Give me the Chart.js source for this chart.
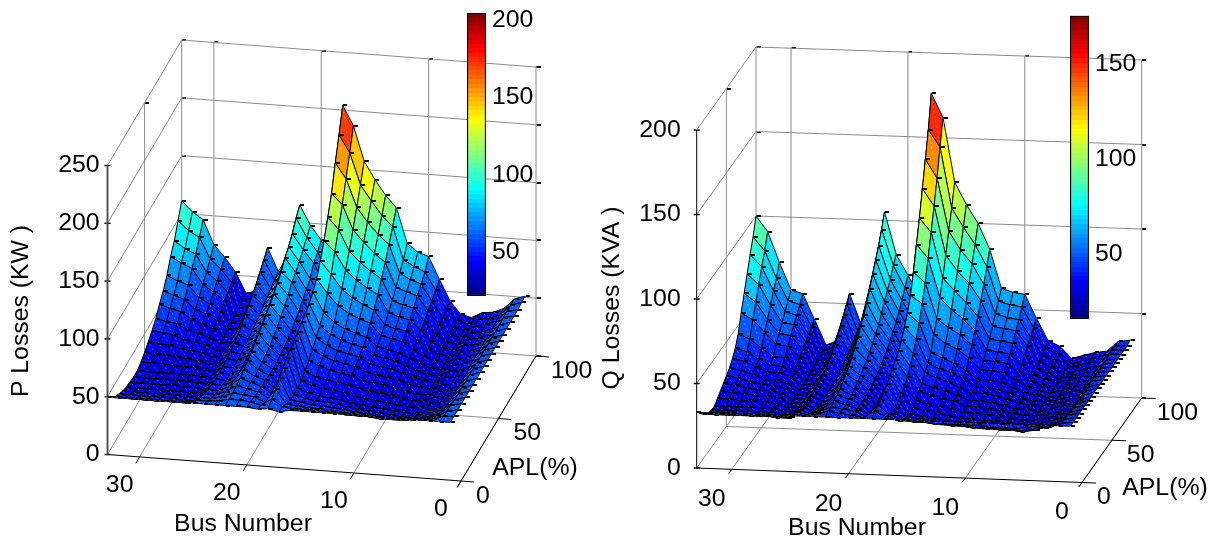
<!DOCTYPE html>
<html>
<head>
<meta charset="utf-8">
<title>P and Q losses</title>
<script src="https://cdn.jsdelivr.net/npm/chart.js@4"></script>
<style>
  body { margin: 0; background: #fff; }
  canvas { position: absolute; }
</style>
</head>
<body>
<canvas id="pSurface" width="596" height="542" style="left:0;top:0"></canvas>
<canvas id="qSurface" width="621" height="542" style="left:596px;top:0"></canvas>
<canvas id="pBar" width="90" height="300" style="left:460px;top:5px"></canvas>
<canvas id="qBar" width="90" height="340" style="left:1063px;top:5px"></canvas>
<script>
const busNumbers = [1, 2, 3, 4, 5, 6, 7, 8, 9, 10, 11, 12, 13, 14, 15, 16, 17, 18, 19, 20, 21, 22, 23, 24, 25, 26, 27, 28, 29, 30, 31, 32, 33];
const aplLevels = [0, 5, 10, 15, 20, 25, 30, 35, 40, 45, 50, 55, 60, 65, 70, 75, 80, 85, 90, 95, 100];

const busTicks = [0, 10, 20, 30];
const aplTicks = [0, 50, 100];
const pZTicks = [0, 50, 100, 150, 200, 250];
const qZTicks = [0, 50, 100, 150, 200];
const pBarTicks = [50, 100, 150, 200];
const qBarTicks = [50, 100, 150];
const pColorRange = [21.6, 204.5];
const qColorRange = [16, 175.3];
// the facets read a bit brighter than the bar at the low end
const pFacetRange = [10, 204.5];
const qFacetRange = [5, 175.3];

// one line per bus, one value per APL level
const pLosses = [
  [50, 50, 50, 50, 50, 50, 50, 50, 50, 50, 50, 50, 50, 50, 50, 50, 50, 50, 50, 51, 51],
  [50, 49, 48, 48, 47, 47, 47, 47, 47, 47, 47, 47, 47, 47, 47, 47, 47, 48, 48, 48, 48],
  [50, 46, 43, 40, 38, 37, 37, 37, 37, 37, 37, 38, 38, 38, 38, 38, 38, 38, 39, 39, 39],
  [50, 45, 41, 37, 35, 33, 33, 33, 33, 33, 33, 33, 34, 34, 34, 34, 34, 34, 35, 35, 35],
  [50, 44, 39, 35, 33, 31, 31, 31, 31, 31, 32, 32, 32, 32, 32, 33, 33, 33, 33, 34, 34],
  [50, 43, 38, 33, 29, 27, 27, 27, 27, 27, 27, 27, 27, 28, 28, 28, 28, 28, 29, 29, 29],
  [50, 43, 38, 33, 29, 27, 27, 27, 27, 28, 28, 28, 28, 29, 29, 29, 29, 30, 30, 31, 31],
  [50, 43, 38, 33, 30, 28, 28, 28, 29, 29, 30, 30, 31, 32, 33, 34, 35, 37, 38, 40, 42],
  [50, 44, 38, 34, 31, 29, 29, 30, 31, 32, 33, 34, 35, 37, 40, 43, 45, 49, 52, 56, 60],
  [50, 44, 39, 35, 32, 30, 30, 31, 33, 34, 36, 37, 39, 43, 47, 51, 56, 61, 66, 71, 79],
  [50, 44, 40, 36, 33, 31, 31, 32, 34, 35, 37, 39, 41, 45, 48, 53, 58, 64, 69, 75, 82],
  [50, 45, 40, 37, 34, 32, 32, 34, 35, 37, 39, 41, 43, 47, 51, 56, 61, 67, 74, 80, 89],
  [50, 45, 41, 38, 36, 34, 35, 36, 39, 41, 44, 47, 50, 57, 63, 71, 79, 88, 98, 108, 119],
  [50, 46, 42, 39, 37, 35, 36, 38, 40, 43, 46, 49, 53, 60, 67, 76, 85, 95, 106, 117, 129],
  [50, 46, 42, 39, 37, 36, 37, 39, 42, 45, 48, 52, 56, 64, 72, 82, 92, 104, 116, 129, 142],
  [50, 46, 43, 41, 39, 38, 39, 41, 45, 48, 52, 56, 61, 70, 79, 90, 101, 114, 128, 142, 157],
  [48, 47, 44, 42, 41, 41, 42, 45, 49, 53, 58, 63, 69, 80, 91, 105, 119, 135, 152, 169, 187],
  [50, 53, 56, 60, 64, 67, 69, 71, 73, 76, 78, 81, 86, 92, 102, 114, 129, 144, 165, 184, 204],
  [49, 47, 44, 42, 40, 39, 38, 38, 38, 38, 39, 40, 41, 43, 45, 47, 50, 54, 58, 63, 68],
  [50, 49, 48, 47, 46, 46, 45, 45, 45, 46, 47, 49, 51, 54, 57, 61, 65, 69, 77, 81, 86],
  [50, 50, 49, 49, 49, 49, 49, 50, 51, 53, 55, 58, 62, 66, 70, 76, 79, 83, 88, 93, 98],
  [50, 50, 50, 51, 52, 54, 56, 58, 61, 63, 66, 69, 72, 76, 80, 84, 91, 95, 101, 109, 115],
  [50, 48, 46, 45, 44, 43, 42, 42, 43, 44, 45, 47, 49, 51, 54, 57, 60, 63, 66, 69, 72],
  [50, 47, 44, 42, 40, 39, 38, 38, 38, 39, 39, 40, 41, 43, 44, 46, 48, 50, 52, 54, 56],
  [50, 47, 44, 42, 40, 39, 38, 38, 38, 39, 40, 42, 44, 47, 50, 53, 57, 61, 66, 71, 76],
  [50, 44, 39, 35, 33, 31, 30, 30, 30, 30, 30, 31, 31, 32, 32, 33, 34, 35, 36, 37, 38],
  [50, 44, 39, 35, 32, 30, 29, 28, 28, 28, 28, 29, 29, 30, 30, 31, 31, 32, 33, 34, 35],
  [50, 44, 39, 36, 33, 31, 30, 29, 29, 30, 30, 32, 33, 34, 36, 38, 40, 44, 46, 49, 53],
  [50, 44, 39, 36, 33, 31, 30, 29, 29, 30, 31, 33, 35, 37, 40, 43, 46, 51, 55, 60, 65],
  [50, 44, 39, 36, 33, 31, 30, 29, 29, 30, 32, 34, 36, 39, 43, 46, 51, 57, 62, 68, 75],
  [50, 44, 39, 36, 33, 31, 30, 29, 29, 31, 33, 36, 40, 44, 49, 54, 61, 70, 77, 86, 96],
  [50, 44, 39, 36, 33, 31, 30, 29, 29, 31, 33, 37, 41, 45, 51, 57, 64, 74, 81, 91, 102],
  [50, 44, 39, 36, 33, 31, 30, 29, 29, 31, 34, 38, 42, 47, 54, 60, 68, 79, 87, 99, 111]
];

const qLosses = [
  [33, 33, 33, 33, 33, 33, 33, 33, 33, 33, 33, 33, 33, 33, 33, 33, 33, 33, 33, 33, 34],
  [33, 32, 32, 32, 31, 31, 31, 31, 31, 31, 31, 32, 32, 32, 32, 32, 32, 33, 33, 33, 33],
  [33, 30, 28, 26, 24, 23, 23, 23, 23, 23, 24, 24, 24, 25, 25, 25, 25, 26, 26, 27, 27],
  [33, 30, 27, 24, 22, 21, 21, 21, 21, 22, 22, 22, 23, 23, 23, 24, 24, 24, 25, 25, 26],
  [33, 29, 25, 22, 20, 19, 19, 19, 19, 20, 20, 20, 20, 21, 21, 22, 22, 22, 23, 23, 24],
  [33, 28, 24, 21, 19, 18, 18, 18, 18, 18, 19, 19, 19, 19, 19, 20, 20, 20, 21, 21, 22],
  [33, 28, 25, 22, 19, 18, 18, 18, 18, 19, 19, 19, 20, 20, 21, 22, 23, 24, 26, 27, 29],
  [33, 28, 25, 22, 19, 18, 18, 18, 19, 19, 20, 20, 21, 22, 23, 24, 25, 27, 28, 30, 32],
  [33, 29, 25, 22, 20, 19, 19, 20, 20, 21, 22, 23, 24, 26, 28, 30, 33, 36, 39, 42, 45],
  [33, 29, 25, 22, 20, 19, 19, 20, 21, 22, 24, 25, 27, 30, 33, 36, 40, 45, 49, 54, 59],
  [33, 29, 26, 23, 21, 20, 20, 21, 22, 23, 25, 26, 28, 31, 34, 37, 41, 46, 50, 55, 60],
  [33, 29, 26, 23, 21, 20, 20, 21, 22, 23, 25, 26, 28, 31, 34, 38, 42, 47, 52, 57, 62],
  [33, 29, 26, 24, 22, 21, 21, 23, 25, 26, 28, 31, 33, 38, 43, 49, 55, 62, 69, 77, 85],
  [33, 30, 27, 25, 23, 22, 23, 24, 26, 28, 31, 34, 37, 43, 49, 56, 63, 72, 81, 90, 100],
  [33, 30, 27, 25, 24, 23, 24, 25, 28, 30, 33, 36, 40, 46, 53, 61, 70, 79, 89, 100, 111],
  [33, 30, 28, 26, 25, 24, 25, 27, 30, 32, 36, 39, 43, 51, 58, 68, 77, 88, 100, 111, 124],
  [33, 32, 31, 30, 30, 31, 33, 35, 38, 42, 47, 53, 60, 69, 79, 91, 104, 117, 131, 147, 162],
  [33, 35, 36, 37, 39, 41, 43, 45, 48, 51, 55, 60, 66, 74, 85, 99, 112, 127, 142, 157, 176],
  [33, 31, 29, 28, 27, 26, 26, 26, 26, 27, 28, 29, 30, 32, 34, 36, 39, 42, 46, 50, 55],
  [33, 32, 32, 31, 31, 31, 31, 32, 33, 34, 35, 37, 39, 41, 44, 47, 50, 54, 58, 63, 68],
  [33, 33, 33, 33, 34, 34, 35, 37, 38, 40, 42, 44, 47, 50, 53, 57, 62, 66, 70, 76, 80],
  [33, 34, 34, 35, 36, 37, 39, 41, 43, 46, 49, 53, 57, 61, 66, 72, 78, 84, 90, 97, 105],
  [33, 32, 31, 30, 29, 29, 29, 30, 31, 32, 33, 35, 37, 39, 42, 45, 48, 51, 54, 57, 60],
  [33, 31, 29, 27, 26, 25, 25, 25, 25, 26, 26, 27, 27, 28, 29, 30, 32, 33, 35, 36, 38],
  [33, 31, 30, 29, 28, 27, 27, 27, 27, 28, 29, 30, 31, 33, 35, 38, 41, 44, 48, 52, 56],
  [33, 30, 27, 24, 22, 21, 21, 21, 21, 21, 22, 22, 22, 23, 23, 24, 25, 25, 26, 27, 28],
  [33, 30, 27, 24, 22, 21, 20, 20, 20, 20, 20, 21, 21, 21, 22, 22, 23, 23, 24, 24, 25],
  [33, 30, 27, 25, 23, 22, 22, 22, 23, 23, 24, 24, 25, 26, 27, 30, 32, 34, 36, 38, 40],
  [33, 30, 27, 25, 23, 22, 22, 23, 24, 25, 25, 26, 28, 29, 32, 36, 40, 44, 47, 51, 55],
  [33, 30, 27, 25, 23, 22, 22, 23, 24, 25, 26, 26, 28, 30, 32, 37, 41, 45, 49, 53, 57],
  [33, 30, 27, 25, 23, 22, 22, 23, 25, 26, 27, 29, 31, 33, 37, 44, 49, 55, 61, 66, 73],
  [33, 30, 27, 25, 23, 22, 22, 24, 25, 27, 29, 31, 34, 37, 42, 51, 59, 67, 75, 82, 91],
  [33, 30, 27, 25, 23, 22, 22, 24, 26, 28, 30, 32, 35, 39, 45, 55, 64, 73, 82, 90, 100]
];

const fontName = '"Liberation Sans", Arial, sans-serif';
const fontSize = 24.8;

// jet colormap with 64 steps, value already scaled to 0..1
function jet(t) {
  const level = Math.min(63, Math.max(0, Math.floor(t * 64)));
  const v = (level + 0.5) / 64;
  const part = (c) => Math.round(255 * Math.max(0, Math.min(1, 1.5 - Math.abs(4 * v - c))));
  return `rgb(${part(3)},${part(2)},${part(1)})`;
}

// small dash that starts at the vertex and runs to the right
function makeDash() {
  const c = document.createElement("canvas");
  c.width = 9;
  c.height = 2;
  const g = c.getContext("2d");
  g.fillStyle = "#000";
  g.fillRect(5, 0, 4, 2);
  return c;
}
const dash = makeDash();

function lerp(a, b, t) {
  return a + (b - a) * t;
}

function makeSurfaceChart(id, losses, colorRange, zTicks, view) {
  // bus 0..33 and APL 0..100 to page position, z goes straight up
  function project(bus, apl, z) {
    const u = bus / 33;
    const v = apl / 100;
    const x = lerp(lerp(view.fr[0], view.fl[0], u), lerp(view.br[0], view.bl[0], u), v);
    const y = lerp(lerp(view.fr[1], view.fl[1], u), lerp(view.br[1], view.bl[1], u), v);
    return { x: x, y: y - z * view.zScale };
  }

  const datasets = [];

  // first dataset ends up on top, so the front row of facets goes first
  for (let k = 0; k < aplLevels.length - 1; k++) {
    for (let b = 0; b < busNumbers.length - 1; b++) {
      const corners = [
        project(busNumbers[b], aplLevels[k], losses[b][k]),
        project(busNumbers[b + 1], aplLevels[k], losses[b + 1][k]),
        project(busNumbers[b + 1], aplLevels[k + 1], losses[b + 1][k + 1]),
        project(busNumbers[b], aplLevels[k + 1], losses[b][k + 1]),
      ];
      // faint diagonal seam across each facet
      datasets.push({
        data: [corners[0], corners[2]],
        showLine: true,
        fill: false,
        borderColor: "rgba(255,255,255,0.3)",
        borderWidth: 1,
        borderDash: [2, 3],
        pointRadius: 0,
        clip: false,
      });
      corners.push(corners[0]);
      const t = (losses[b][k] - colorRange[0]) / (colorRange[1] - colorRange[0]);
      datasets.push({
        data: corners,
        showLine: true,
        fill: "shape",
        backgroundColor: jet(t),
        borderColor: "#000",
        borderWidth: 1,
        pointRadius: 1,
        pointStyle: dash,
        clip: false,
      });
    }
  }

  function addLine(points, color, width) {
    datasets.push({
      data: points,
      showLine: true,
      fill: false,
      borderColor: color,
      borderWidth: width,
      pointRadius: 0,
      clip: false,
    });
  }

  function addMarks(points, style) {
    datasets.push({
      data: points,
      showLine: false,
      pointStyle: style,
      pointRadius: 3,
      borderColor: "#000",
      backgroundColor: "#000",
      borderWidth: 1.5,
      clip: false,
    });
  }

  const zTop = zTicks[zTicks.length - 1];
  const gridColor = "#8c8c8c";
  const marks = [];

  // axes
  addLine([project(33, 0, 0), project(33, 0, zTop)], view.zAxisColor, view.zAxisWidth);
  addLine([project(33, 0, 0), project(-1.2, 0, 0)], "#000", 1);
  addLine([project(0, -5, 0), project(0, 100, 0), project(-1.2, 100, 0)], "#000", 1);
  addLine([project(0, 50, 0), project(-1.2, 50, 0)], "#000", 1);

  busTicks.forEach((bus) => {
    addLine([project(bus, 100, 0), project(bus, 0, 0)], gridColor, 1);
    addLine([project(bus, 0, 0), project(bus, -5, 0)], "#000", 1);
    addLine([project(bus, 100, 0), project(bus, 100, zTop)], gridColor, 1);
    marks.push(project(bus, 100, zTop));
  });
  addLine([project(33, 100, 0), project(33, 100, zTop)], gridColor, 1);
  addLine([project(33, 50, 0), project(33, 50, zTop)], gridColor, 1);
  addLine([project(33, 50, 0), project(0, 50, 0)], gridColor, 1);
  marks.push(project(33, 50, zTop));

  zTicks.forEach((z) => {
    addLine([project(33, 0, z), project(33, 100, z), project(0, 100, z)], gridColor, 1);
    marks.push(project(33, 100, z));
    marks.push(project(0, 100, z));
  });
  addMarks(marks, dash);
  addMarks(zTicks.map((z) => project(33, 0, z)), "line");

  const textPlugin = {
    id: "axisText",
    afterDraw(chart) {
      const { ctx, scales } = chart;
      const put = (text, px, py, align) => {
        ctx.textAlign = align;
        ctx.fillText(text, scales.x.getPixelForValue(px), scales.y.getPixelForValue(py));
      };
      ctx.save();
      ctx.fillStyle = "#000";
      ctx.font = `${fontSize}px ${fontName}`;
      ctx.textBaseline = "middle";
      zTicks.forEach((z) => {
        const p = project(33, 0, z);
        put(String(z), p.x - view.zLabelGap, p.y, "right");
      });
      busTicks.forEach((bus) => {
        const p = project(bus, 0, 0);
        put(String(bus), p.x - 20, p.y + view.busLabelDrop, "center");
      });
      aplTicks.forEach((apl) => {
        const p = project(0, apl, 0);
        put(String(apl), p.x + 15, p.y + 15, "left");
      });
      put("APL(%)", view.aplTitle[0], view.aplTitle[1], "center");
      put("Bus Number", view.busTitle[0], view.busTitle[1], "center");
      ctx.translate(scales.x.getPixelForValue(view.zTitle[0]), scales.y.getPixelForValue(view.zTitle[1]));
      ctx.rotate(-Math.PI / 2);
      ctx.textAlign = "center";
      ctx.fillText(view.zTitleText, 0, 0);
      ctx.restore();
    },
  };

  return new Chart(document.getElementById(id), {
    type: "scatter",
    data: { datasets: datasets },
    plugins: [textPlugin],
    options: {
      responsive: false,
      animation: false,
      events: [],
      layout: { autoPadding: false, padding: 0 },
      elements: { line: { tension: 0 } },
      plugins: { legend: { display: false }, tooltip: { enabled: false } },
      scales: {
        x: { type: "linear", display: false, min: view.left, max: view.left + view.width },
        y: { type: "linear", display: false, min: 0, max: 542, reverse: true },
      },
    },
  });
}

function makeColorBar(id, range, barTicks, padding) {
  return new Chart(document.getElementById(id), {
    type: "bar",
    data: {
      labels: [""],
      datasets: [
        {
          data: [range],
          barPercentage: 1,
          categoryPercentage: 1,
          borderColor: "#000",
          borderWidth: 1.5,
          borderSkipped: false,
          backgroundColor(context) {
            const area = context.chart.chartArea;
            if (!area) return "#00f";
            const g = context.chart.ctx.createLinearGradient(0, area.bottom, 0, area.top);
            for (let i = 0; i < 64; i++) {
              const color = jet((i + 0.5) / 64);
              g.addColorStop(i / 64, color);
              g.addColorStop((i + 1) / 64, color);
            }
            return g;
          },
        },
      ],
    },
    options: {
      responsive: false,
      animation: false,
      events: [],
      layout: { autoPadding: false, padding: padding },
      plugins: { legend: { display: false }, tooltip: { enabled: false } },
      scales: {
        x: { display: false },
        y: {
          position: "right",
          min: range[0],
          max: range[1],
          z: 1,
          afterBuildTicks(scale) {
            scale.ticks = barTicks.map((v) => ({ value: v }));
          },
          afterFit(scale) {
            scale.width = 64;
            scale.paddingTop = 0;
            scale.paddingBottom = 0;
          },
          grid: { color: "#000", drawTicks: false, lineWidth: 1 },
          border: { display: false, dash: [4, 11] },
          ticks: {
            color: "#000",
            padding: 6,
            font: { family: fontName, size: fontSize },
          },
        },
      },
    },
  });
}

makeSurfaceChart("pSurface", pLosses, pFacetRange, pZTicks, {
  left: 0,
  width: 596,
  fl: [107.5, 454.5],
  fr: [461, 481],
  bl: [181.7, 329],
  br: [536, 356],
  zScale: 1.156,
  zAxisColor: "#555",
  zAxisWidth: 2,
  zLabelGap: 8,
  busLabelDrop: 28,
  aplTitle: [535, 468],
  busTitle: [243, 524],
  zTitle: [21, 311],
  zTitleText: "P Losses (KW )",
});

makeSurfaceChart("qSurface", qLosses, qFacetRange, qZTicks, {
  left: 596,
  width: 621,
  fl: [696.7, 468],
  fr: [1082, 482.5],
  bl: [756, 385],
  br: [1141.7, 398],
  zScale: 1.69,
  zAxisColor: "#000",
  zAxisWidth: 1,
  zLabelGap: 16,
  busLabelDrop: 30,
  aplTitle: [1165, 488],
  busTitle: [857, 528],
  zTitle: [612, 298],
  zTitleText: "Q Losses (KVA )",
});

makeColorBar("pBar", pColorRange, pBarTicks, { left: 7, top: 8, bottom: 9, right: 0 });
makeColorBar("qBar", qColorRange, qBarTicks, { left: 7, top: 10.7, bottom: 26, right: 0 });
</script>
</body>
</html>
